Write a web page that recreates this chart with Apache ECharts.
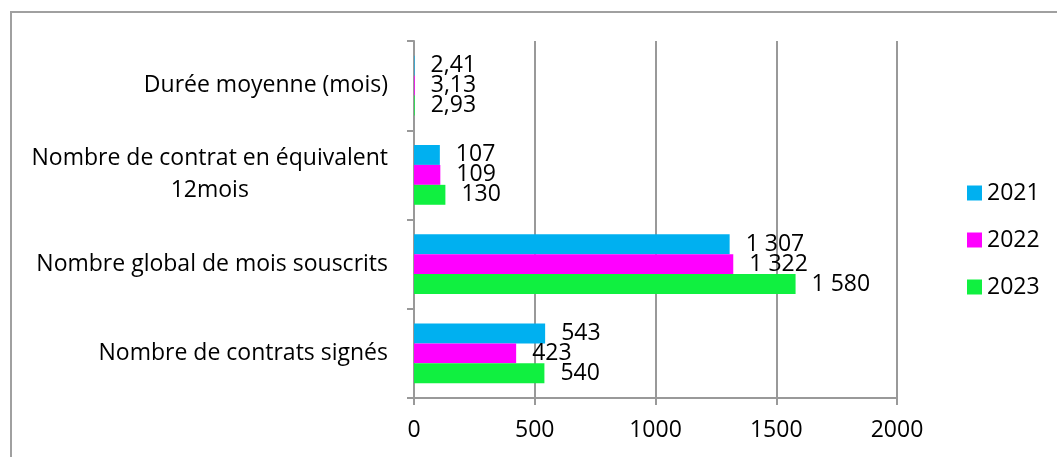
<!DOCTYPE html>
<html>
<head>
<meta charset="utf-8">
<script src="https://cdn.jsdelivr.net/npm/echarts@6/dist/echarts.min.js"></script>
<style>html,body{margin:0;padding:0;background:#fff;}#c{width:1057px;height:457px;}</style>
</head>
<body>
<div id="c"></div>
<script>
var categories = ['Durée moyenne (mois)', 'Nombre de contrat en équivalent\n12mois', 'Nombre global de mois souscrits', 'Nombre de contrats signés'];
var seriesNames = ['2021', '2022', '2023'];
var values2021 = [2.41, 107, 1307, 543];
var values2022 = [3.13, 109, 1322, 423];
var values2023 = [2.93, 130, 1580, 540];
var colors = ['#00B0F0', '#FF00FF', '#10F040'];
var xTicks = [0, 500, 1000, 1500, 2000];

var FONT = 'Open Sans';
var FS = 23;
function fmt(v) {
  if (v < 10) return v.toFixed(2).replace('.', ',');
  var s = String(Math.round(v));
  return s.replace(/\B(?=(\d{3})+(?!\d))/g, ' ');
}
var allValues = [values2021, values2022, values2023];
var chart = echarts.init(document.getElementById('c'));
chart.setOption({
  animation: false,
  backgroundColor: '#fff',
  textStyle: {fontFamily: FONT},
  graphic: [{
    type: 'rect', z: -10, silent: true,
    shape: {x: 11, y: 12, width: 1100, height: 500},
    style: {fill: 'none', stroke: '#a0a0a0', lineWidth: 2}
  }],
  grid: {left: 414, right: 160, top: 41, bottom: 59},
  legend: {
    orient: 'vertical', left: 967, top: 180, padding: 0,
    itemWidth: 15, itemHeight: 15, itemGap: 21,
    icon: 'rect',
    textStyle: {fontFamily: FONT, fontSize: FS, color: '#000', lineHeight: 26},
    data: seriesNames
  },
  xAxis: {
    type: 'value', min: 0, max: 2000, interval: 500,
    axisLine: {show: true, lineStyle: {color: '#999', width: 2}},
    axisTick: {show: true, length: 7, lineStyle: {color: '#999', width: 2}},
    splitLine: {show: true, lineStyle: {color: '#999', width: 2}},
    axisLabel: {color: '#000', fontSize: FS, fontFamily: FONT, margin: 21,
      formatter: function (v) { return xTicks.indexOf(v) >= 0 ? String(v) : ''; }}
  },
  yAxis: {
    type: 'category', inverse: true, data: categories,
    axisLine: {show: true, lineStyle: {color: '#999', width: 2}},
    axisTick: {show: true, length: 7, lineStyle: {color: '#999', width: 2}},
    axisLabel: {
      color: '#000', fontSize: FS, fontFamily: FONT, margin: 26,
      formatter: function (v) {
        return v.split('\n').map(function (l) { return '{a|' + l + '}'; }).join('\n');
      },
      rich: {a: {align: 'center', fontSize: FS, fontFamily: FONT, color: '#000', lineHeight: 32}}
    }
  },
  series: seriesNames.map(function (n, i) {
    return {
      name: n, type: 'bar', data: allValues[i],
      barGap: '0%', barCategoryGap: '33%',
      itemStyle: {color: colors[i]},
      label: {show: true, position: 'right', distance: 16, color: '#000',
        fontSize: FS, fontFamily: FONT,
        formatter: function (p) { return fmt(p.value); }}
    };
  })
});
</script>
</body>
</html>
